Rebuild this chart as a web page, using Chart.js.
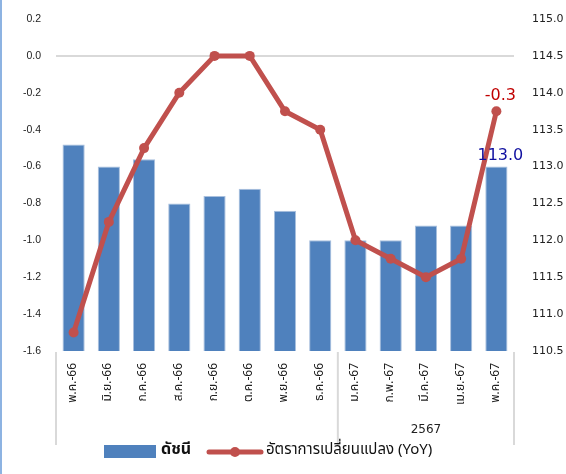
<!DOCTYPE html>
<html>
<head>
<meta charset="utf-8">
<script src="https://cdn.jsdelivr.net/npm/chart.js@4"></script>
<style>
  html, body { margin: 0; padding: 0; background: #fff; }
  #wrap { position: relative; width: 566px; height: 474px; }
  #edge { position: absolute; left: 0; top: 0; width: 2px; height: 474px; background: #8db3e2; }
</style>
</head>
<body>
<div id="wrap">
  <canvas id="chart" width="566" height="474"></canvas>
  <div id="edge"></div>
</div>
<script>
const months = ['พ.ค.-66', 'มิ.ย.-66', 'ก.ค.-66', 'ส.ค.-66', 'ก.ย.-66', 'ต.ค.-66', 'พ.ย.-66', 'ธ.ค.-66', 'ม.ค.-67', 'ก.พ.-67', 'มี.ค.-67', 'เม.ย.-67', 'พ.ค.-67'];
const indexValues = [113.3, 113.0, 113.1, 112.5, 112.6, 112.7, 112.4, 112.0, 112.0, 112.0, 112.2, 112.2, 113.0];
const yoyValues = [-1.5, -0.9, -0.5, -0.2, 0.0, 0.0, -0.3, -0.4, -1.0, -1.1, -1.2, -1.1, -0.3];
const yearGroups = [
    { label: '', from: 0, to: 7 },
    { label: '2567', from: 8, to: 12 }
];
const seriesNames = ['ดัชนี', 'อัตราการเปลี่ยนแปลง (YoY)'];

const BAR_COLOR = '#4f81bd';
const LINE_COLOR = '#c0504d';
const THAI_FONT = "Tahoma, 'Noto Sans Thai', 'Leelawadee UI', 'DejaVu Sans', sans-serif";

function fmt1(v) {
    const r = Math.round(v * 10) / 10;
    return (r === 0 ? 0 : r).toFixed(1);
}

// tick padding would otherwise push the plot top down
function fixSide(width) {
    return s => {
        s.width = width;
        s.paddingTop = 6;
        s.paddingBottom = 6;
    };
}

// group separators, year label, legend and the two value labels
const decorations = {
    id: 'decorations',
    afterDraw(chart) {
        const ctx = chart.ctx;
        const area = chart.chartArea;
        const x = chart.scales.x;
        const yL = chart.scales.y;
        const yR = chart.scales.y1;
        const sepBottom = 445;

        ctx.save();
        ctx.strokeStyle = '#d9d9d9';
        ctx.lineWidth = 2;
        const seps = [area.left];
        yearGroups.forEach(g => {
            const right = g.to < months.length - 1
                ? (x.getPixelForValue(g.to) + x.getPixelForValue(g.to + 1)) / 2
                : area.right;
            seps.push(right);
        });
        seps.forEach(px => {
            ctx.beginPath();
            ctx.moveTo(px, area.bottom + 1);
            ctx.lineTo(px, sepBottom);
            ctx.stroke();
        });

        ctx.fillStyle = '#222';
        ctx.font = "12px 'DejaVu Sans', sans-serif";
        ctx.textAlign = 'center';
        ctx.textBaseline = 'middle';
        yearGroups.forEach((g, i) => {
            if (!g.label) return;
            ctx.fillText(g.label, (seps[i] + seps[i + 1]) / 2, 430);
        });

        // legend
        const ly = 451;
        ctx.fillStyle = BAR_COLOR;
        ctx.fillRect(104, ly - 6, 52, 13);
        ctx.fillStyle = '#111';
        ctx.font = 'bold 16px ' + THAI_FONT;
        ctx.textAlign = 'left';
        ctx.fillText(seriesNames[0], 161, ly);
        ctx.strokeStyle = LINE_COLOR;
        ctx.lineWidth = 5;
        ctx.lineCap = 'round';
        ctx.beginPath();
        ctx.moveTo(209, ly + 1);
        ctx.lineTo(261, ly + 1);
        ctx.stroke();
        ctx.fillStyle = LINE_COLOR;
        ctx.beginPath();
        ctx.arc(235, ly + 1, 5, 0, Math.PI * 2);
        ctx.fill();
        ctx.fillStyle = '#111';
        ctx.font = '15px ' + THAI_FONT;
        ctx.fillText(seriesNames[1], 266, ly);

        // value labels on the last month
        const last = months.length - 1;
        const px = x.getPixelForValue(last);
        ctx.font = "16px 'DejaVu Sans', sans-serif";
        ctx.textAlign = 'center';
        ctx.fillStyle = '#c00000';
        ctx.fillText(fmt1(yoyValues[last]), px + 4, yL.getPixelForValue(yoyValues[last]) - 15);
        ctx.fillStyle = '#1010a0';
        ctx.fillText(fmt1(indexValues[last]), px + 4, yR.getPixelForValue(indexValues[last]) - 11);
        ctx.restore();
    }
};

new Chart(document.getElementById('chart'), {
    type: 'bar',
    data: {
        labels: months,
        datasets: [
            {
                type: 'line',
                label: seriesNames[1],
                data: yoyValues,
                yAxisID: 'y',
                borderColor: LINE_COLOR,
                backgroundColor: LINE_COLOR,
                borderWidth: 5,
                pointRadius: 5,
                pointBorderWidth: 0,
                tension: 0,
                order: 0
            },
            {
                type: 'bar',
                label: seriesNames[0],
                data: indexValues,
                yAxisID: 'y1',
                backgroundColor: BAR_COLOR,
                borderColor: '#a9c0de',
                borderWidth: 1,
                base: 110.5,
                categoryPercentage: 1,
                barPercentage: 0.63,
                order: 1
            }
        ]
    },
    options: {
        responsive: false,
        animation: false,
        layout: { padding: { top: 19, left: 0, right: 0, bottom: 0 } },
        plugins: {
            legend: { display: false },
            tooltip: { enabled: false }
        },
        scales: {
            x: {
                grid: { display: false, drawTicks: false },
                border: { display: false },
                ticks: {
                    color: '#222',
                    minRotation: 90,
                    maxRotation: 90,
                    padding: 12,
                    autoSkip: false,
                    font: { family: THAI_FONT, size: 12 }
                },
                afterFit: s => { s.height = 123; }
            },
            y: {
                position: 'left',
                min: -1.6,
                max: 0.2,
                grid: {
                    drawTicks: false,
                    lineWidth: 2,
                    color: c => (c.tick && Math.abs(c.tick.value) < 1e-9) ? '#d9d9d9' : 'rgba(0,0,0,0)'
                },
                border: { display: false },
                ticks: {
                    stepSize: 0.2,
                    padding: 15,
                    color: '#222',
                    font: { family: "'Liberation Sans', Arial, sans-serif", size: 10.5 },
                    callback: v => fmt1(v)
                },
                afterFit: fixSide(56)
            },
            y1: {
                position: 'right',
                min: 110.5,
                max: 115,
                grid: { display: false, drawTicks: false },
                border: { display: false },
                ticks: {
                    stepSize: 0.5,
                    padding: 18,
                    color: '#222',
                    font: { family: "'DejaVu Sans', sans-serif", size: 11 },
                    callback: v => fmt1(v)
                },
                afterFit: fixSide(52)
            }
        }
    },
    plugins: [decorations]
});
</script>
</body>
</html>
